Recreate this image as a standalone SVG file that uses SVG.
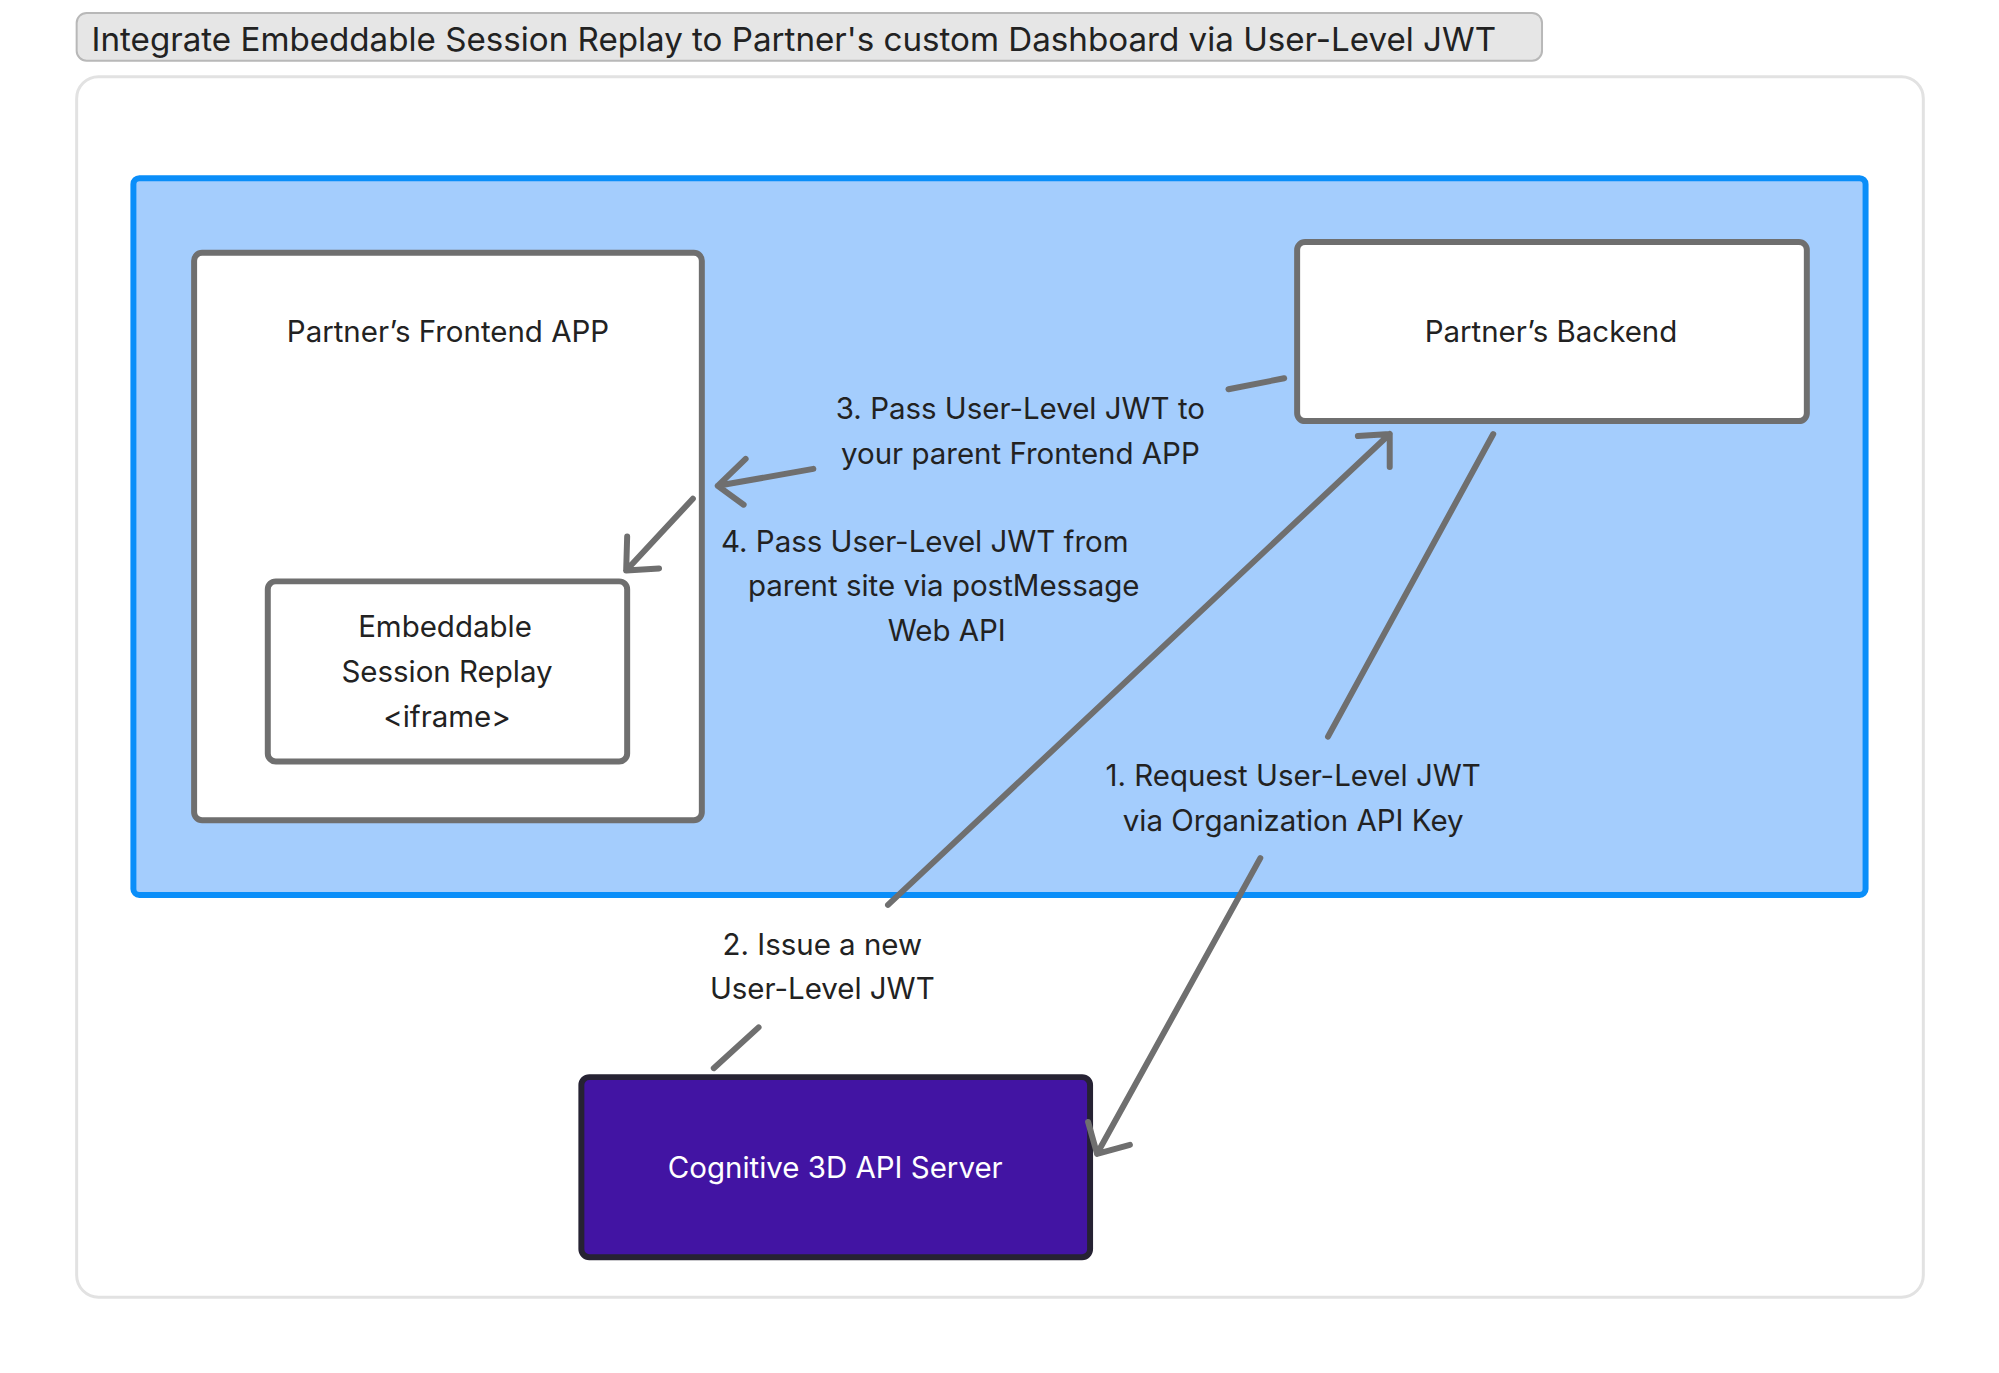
<svg xmlns="http://www.w3.org/2000/svg" width="1999" height="1373" viewBox="0 0 1999 1373">
<style>
text{font-family:Inter,"Liberation Sans",sans-serif;font-size:29.6px;fill:#222;text-anchor:middle}
.node{fill:#fff;stroke:#6f6f6f;stroke-width:6}
.c{fill:none;stroke:#6f6f6f;stroke-width:6;stroke-linecap:round;stroke-linejoin:round}
</style>
<rect width="1999" height="1373" fill="#fff"/>
<g transform="scale(0.9955)">
<g id="title"><rect x="77" y="13" width="1472" height="48" rx="10" fill="#e6e6e6" stroke="#b8b8b8" stroke-width="2"/>
<text x="92" y="51" style="text-anchor:start;font-size:33.3px" fill="#111">Integrate Embeddable Session Replay to Partner's custom Dashboard via User-Level JWT</text></g>
<g id="frame"><rect x="77" y="77" width="1855" height="1226" rx="22" fill="#fff" stroke="#e2e2e2" stroke-width="3"/></g>
<g id="partner-zone"><rect x="134" y="179" width="1740" height="720" rx="6" fill="#a4cdfd" stroke="#0a8ef9" stroke-width="6"/></g>
<g id="frontend"><rect class="node" x="195" y="254" width="510" height="570" rx="8"/><text x="450" y="344">Partner’s Frontend APP</text></g>
<g id="embed"><rect class="node" x="269" y="584" width="361" height="181" rx="8"/>
<text x="447" y="640">Embeddable</text><text x="449" y="685">Session Replay</text><text x="449" y="730">&lt;iframe&gt;</text></g>
<g id="backend"><rect class="node" x="1303" y="243" width="512" height="180" rx="8"/><text x="1558" y="344">Partner’s Backend</text></g>
<g id="server"><rect x="584" y="1082" width="511" height="181" rx="8" fill="#4214a3" stroke="#262233" stroke-width="6"/><text x="839" y="1183" style="fill:#fff">Cognitive 3D API Server</text></g>
<g id="connectors">
<path class="c" d="M1234 391L1290 380M817 471L721 488M749 461L721 488L747 507"/>
<path class="c" d="M696 501L629 573M630 539L629 573L662 571"/>
<path class="c" d="M717 1073L762 1032M892 909L1396 436M1364 438L1396 436L1396 469"/>
<path class="c" d="M1500 436L1334 740M1266 862L1102 1159M1093 1127L1102 1159L1135 1150"/>
</g>
<g id="labels">
<text x="1025" y="421">3. Pass User-Level JWT to</text><text x="1025" y="466">your parent Frontend APP</text>
<text x="929" y="554">4. Pass User-Level JWT from</text><text x="948" y="599">parent site via postMessage</text><text x="951" y="644">Web API</text>
<text x="1299" y="790">1. Request User-Level JWT</text><text x="1299" y="835">via Organization API Key</text>
<text x="826" y="959">2. Issue a new</text><text x="826" y="1004">User-Level JWT</text>
</g>
</g>
</svg>
